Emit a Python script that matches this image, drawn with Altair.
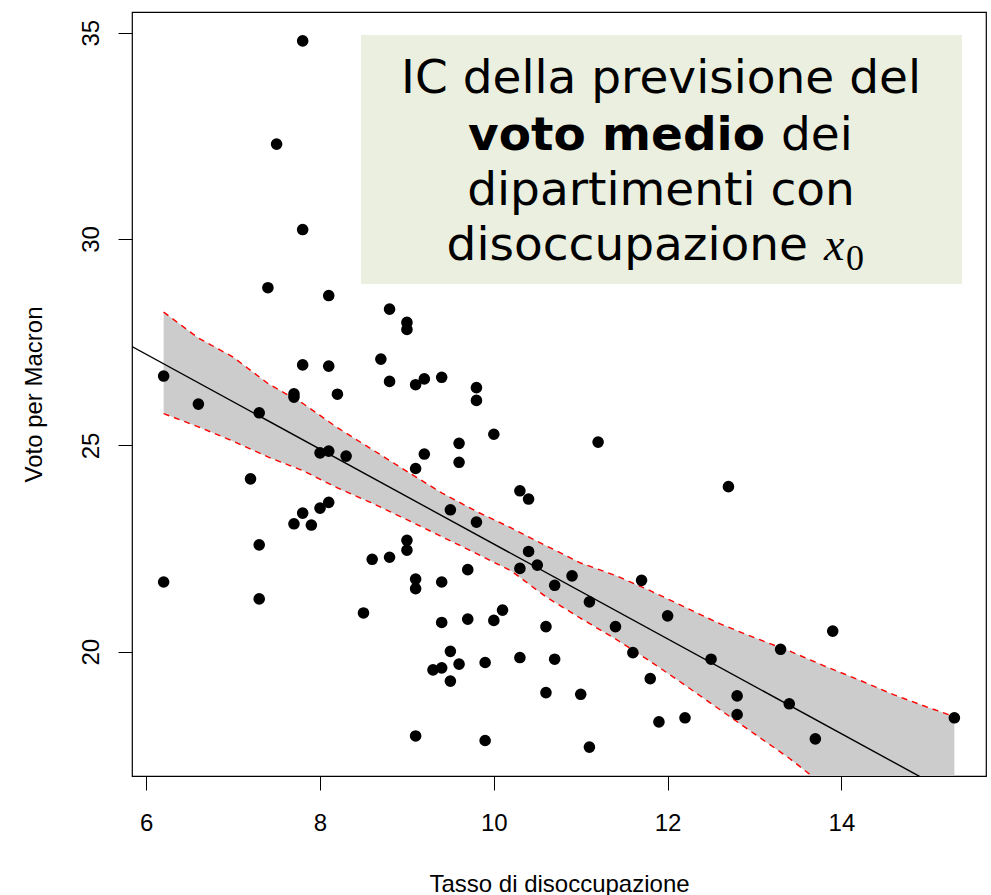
import altair as alt
import pandas as pd

# Unemployment rate (%) and Macron vote share (%) by département
tasso = [7.8, 7.5, 7.8, 7.4, 8.1, 8.8, 9.0, 9.0, 8.7, 7.8, 8.1, 6.2, 8.8, 9.1, 9.2, 9.4,
         9.8, 9.8, 7.7, 7.7, 8.2, 6.6, 7.3, 10.0, 9.6, 9.6, 9.2, 9.1, 8.0, 8.1, 8.3, 7.2,
         10.3, 10.4, 8.1, 8.0, 7.8, 7.7, 7.9, 9.5, 9.8, 7.3, 9.0, 9.0, 10.4, 10.5, 10.3,
         9.7, 8.6, 8.8, 6.2, 9.1, 9.1, 9.4, 10.7, 7.3, 8.5, 10.1, 9.4, 9.7, 10.0, 10.6,
         9.5, 9.6, 9.3, 9.4, 9.9, 10.3, 10.7, 9.5, 10.6, 9.1, 9.9, 11.2, 12.7, 10.9, 11.7,
         11.1, 12.0, 11.4, 11.6, 12.5, 13.3, 13.9, 11.0, 11.8, 12.8, 12.8, 13.4, 15.3,
         12.2, 11.9, 13.7, 11.1]
voto = [34.80, 32.30, 30.23, 28.82, 28.63, 28.30, 27.98, 27.81, 27.09, 26.95, 26.92,
        26.68, 26.55, 26.47, 26.61, 26.65, 26.40, 26.09, 26.25, 26.17, 26.24, 26.00,
        25.79, 25.27, 25.05, 24.59, 24.79, 24.44, 24.82, 24.86, 24.74, 24.19, 23.90,
        23.70, 23.62, 23.48, 23.36, 23.10, 23.07, 23.44, 23.14, 22.59, 22.70, 22.46,
        22.43, 22.10, 22.02, 21.99, 22.24, 22.29, 21.69, 21.76, 21.53, 21.69, 21.61,
        21.28, 20.94, 21.01, 20.71, 20.79, 20.76, 20.61, 20.01, 19.70, 19.56, 19.61,
        19.74, 19.86, 19.82, 19.29, 19.01, 17.96, 17.85, 25.08, 24.00, 21.84, 21.73,
        21.21, 20.87, 20.61, 19.98, 19.82, 20.06, 20.50, 18.97, 19.35, 18.93, 18.48,
        18.74, 18.40, 18.40, 18.30, 17.89, 17.69]

# Least-squares line: voto = INTERCETTA + PENDENZA * tasso
INTERCETTA = 34.10
PENDENZA = -1.149

# Confidence interval for the mean prediction
banda_x = [6.2, 6.6, 7.0, 7.4, 7.8, 8.2, 8.6, 9.0, 9.4, 9.8, 10.2, 10.6,
           11.0, 11.4, 11.8, 12.2, 12.6, 13.0, 13.4, 13.8, 14.2, 14.6, 15.0, 15.3]
banda_sup = [28.23, 27.60, 27.14, 26.50, 26.02, 25.43, 24.90, 24.37, 23.85, 23.40, 23.00, 22.57,
             22.15, 21.85, 21.48, 21.08, 20.68, 20.34, 20.02, 19.66, 19.32, 18.96, 18.65, 18.43]
banda_inf = [25.77, 25.45, 25.10, 24.72, 24.39, 23.97, 23.60, 23.20, 22.79, 22.38, 21.96, 21.33,
             20.81, 20.31, 19.77, 19.19, 18.60, 18.01, 17.42, 16.76, 16.12, 15.48, 14.85, 14.40]

X_DOMAIN = [5.836, 15.664]
Y_DOMAIN = [16.99, 35.5]
X_TICKS = [6, 8, 10, 12, 14]
Y_TICKS = [20, 25, 30, 35]

TITOLO_X = "Tasso di disoccupazione"
TITOLO_Y = "Voto per Macron"
RIGA_1 = "IC della previsione del"
RIGA_2_GRASSETTO = "voto medio"
RIGA_2 = "dei"
RIGA_3 = "dipartimenti con"
RIGA_4 = "disoccupazione"
SIMBOLO = "x"
PEDICE = "0"

W, H = 854, 764
FONT = "Liberation Sans"
AX_SIZE = 24
BOX_FONT = "DejaVu Sans"
BOX_SIZE = 47

punti = pd.DataFrame({"tasso": tasso, "voto": voto})
banda = pd.DataFrame({"x": banda_x, "inf": banda_inf, "sup": banda_sup})
retta = pd.DataFrame({"x": X_DOMAIN})
retta["y"] = INTERCETTA + PENDENZA * retta["x"]

xs = alt.Scale(domain=X_DOMAIN, nice=False, zero=False)
ys = alt.Scale(domain=Y_DOMAIN, nice=False, zero=False)

x_axis = alt.Axis(values=X_TICKS, format="d", title=TITOLO_X, grid=False, domain=False,
                  tickSize=14, tickColor="black", tickWidth=1,
                  labelFont=FONT, labelFontSize=AX_SIZE, labelColor="black",
                  labelBaseline="alphabetic", labelPadding=40, labelFlush=False,
                  labelOverlap=False,
                  titleFont=FONT, titleFontSize=AX_SIZE, titleFontWeight="normal",
                  titleColor="black", titleBaseline="alphabetic", titleAlign="center",
                  titleX=W / 2, titleY=115)
y_axis = alt.Axis(values=Y_TICKS, format="d", title=TITOLO_Y, grid=False, domain=False,
                  tickSize=14, tickColor="black", tickWidth=1,
                  labelFont=FONT, labelFontSize=AX_SIZE, labelColor="black",
                  labelAngle=270, labelAlign="center", labelBaseline="alphabetic",
                  labelPadding=20, labelFlush=False, labelOverlap=False,
                  titleFont=FONT, titleFontSize=AX_SIZE, titleFontWeight="normal",
                  titleColor="black", titleAngle=270, titleAlign="center",
                  titleBaseline="alphabetic", titleX=-91, titleY=H / 2)

base_banda = alt.Chart(banda)
area = base_banda.mark_area(color="#cccccc", clip=True).encode(
    x=alt.X("x:Q", scale=xs, axis=x_axis),
    y=alt.Y("inf:Q", scale=ys, axis=y_axis),
    y2="sup:Q",
)
bordo_sup = base_banda.mark_line(color="red", strokeDash=[6, 5], strokeWidth=1.4, clip=True).encode(
    x=alt.X("x:Q", scale=xs), y=alt.Y("sup:Q", scale=ys)
)
bordo_inf = base_banda.mark_line(color="red", strokeDash=[6, 5], strokeWidth=1.4, clip=True).encode(
    x=alt.X("x:Q", scale=xs), y=alt.Y("inf:Q", scale=ys)
)
linea = alt.Chart(retta).mark_line(color="black", strokeWidth=1.4, clip=True).encode(
    x=alt.X("x:Q", scale=xs), y=alt.Y("y:Q", scale=ys)
)
scatter = alt.Chart(punti).mark_circle(color="black", size=135, opacity=1).encode(
    x=alt.X("tasso:Q", scale=xs), y=alt.Y("voto:Q", scale=ys)
)

# Annotation box in the upper right
uno = pd.DataFrame({"k": [0]})
riquadro = alt.Chart(uno).mark_rect(color="#ebefdf").encode(
    x=alt.value(229), x2=alt.value(830), y=alt.value(23), y2=alt.value(272)
)


def testo(s, x, y, align="center", weight="normal", font=BOX_FONT, size=BOX_SIZE, style="normal"):
    return alt.Chart(uno).mark_text(
        text=s, align=align, baseline="alphabetic", font=font, fontSize=size,
        fontWeight=weight, fontStyle=style, color="black"
    ).encode(x=alt.value(x), y=alt.value(y))


testi = [
    testo(RIGA_1, 529, 81),
    testo(RIGA_2_GRASSETTO, 633, 138, align="right", weight="bold"),
    testo(RIGA_2, 649, 138, align="left"),
    testo(RIGA_3, 529, 193),
    testo(RIGA_4, 676, 248, align="right"),
    testo(SIMBOLO, 692, 248, align="left", font="Liberation Serif", size=46, style="italic"),
    testo(PEDICE, 714, 258, align="left", font="Liberation Serif", size=36),
]

chart = alt.layer(area, bordo_sup, bordo_inf, linea, scatter, riquadro, *testi).properties(
    width=W, height=H,
    autosize=alt.AutoSizeParams(type="none"),
    padding={"left": 132, "top": 12, "right": 5, "bottom": 119},
    background="white",
).configure_view(stroke="black", strokeWidth=1.2)

chart.save("out.html", embed_options={"renderer": "svg", "actions": False})
